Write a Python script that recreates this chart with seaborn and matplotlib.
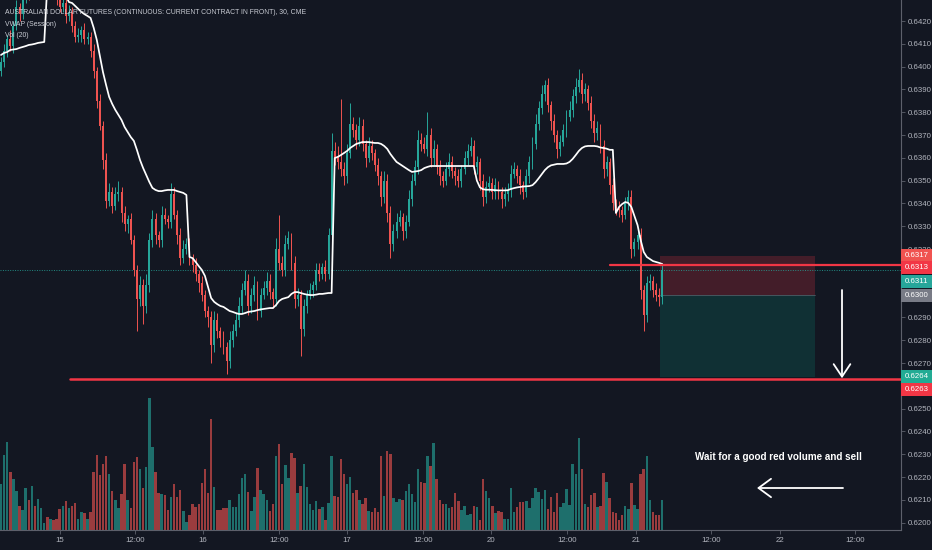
import matplotlib
matplotlib.use("Agg")
import matplotlib.pyplot as plt
import matplotlib.transforms as mtransforms
from matplotlib import font_manager
from matplotlib.patches import Rectangle
import numpy as np
import pandas as pd
import seaborn as sns

# ---------------- data (prices in 1/10000 units) ----------------
first_open = 6398
closes = [6402,6407,6412,6409,6418,6426,6423,6430,6435,6432,
          6436,6433,6435,6437,6438,6435,6436,6433,6430,6426,
          6428,6422,6424,6418,6413,6414,6416,6412,6413,6407,
          6398,6385,6374,6359,6341,6345,6339,6344,6345,6336,
          6331,6333,6324,6311,6298,6304,6295,6304,6324,6333,
          6326,6324,6335,6333,6332,6344,6335,6326,6316,6320,
          6322,6316,6313,6309,6305,6300,6293,6290,6278,6289,
          6284,6281,6277,6271,6280,6284,6289,6295,6302,6306,
          6295,6300,6304,6293,6300,6303,6306,6301,6298,6320,
          6314,6311,6322,6325,6314,6298,6300,6285,6295,6300,
          6302,6304,6311,6309,6312,6309,6326,6363,6360,6358,
          6355,6352,6362,6375,6372,6368,6374,6366,6360,6365,
          6362,6357,6352,6343,6350,6336,6322,6328,6332,6334,
          6328,6332,6342,6350,6356,6368,6366,6364,6370,6360,
          6364,6356,6352,6350,6355,6358,6354,6352,6350,6355,
          6360,6363,6365,6356,6358,6350,6343,6347,6349,6345,
          6348,6345,6342,6344,6346,6353,6355,6352,6348,6345,
          6352,6358,6366,6375,6382,6388,6392,6383,6376,6370,
          6364,6367,6372,6378,6381,6387,6391,6394,6388,6390,
          6384,6376,6371,6373,6365,6355,6358,6348,6340,6338,
          6337,6335,6340,6343,6320,6323,6326,6302,6291,6305,
          6306,6302,6300,6299,6311]

wick_up = [2,3,2,4,2,3,2,3,2,3, 2,3,2,2,3,2,2,3,2,3, 3,2,3,2,2,3,2,3,2,2,
           3,2,3,2,3,4,2,3,5,2, 3,2,3,2,2,4,3,5,3,4, 3,2,4,3,2,5,3,2,3,4,
           3,3,2,3,2,3,2,2,3,4, 3,2,3,2,4,3,3,4,3,5, 3,3,4,2,3,3,4,3,2,5,
           15,3,4,3,2,3,3,2,3,2, 3,2,3,3,2,3,3,8,4,5, 28,3,4,9,3,3,4,3,2,4,
           3,2,3,2,4,3,3,3,4,3, 2,3,4,3,3,4,3,3,10,3, 4,2,3,2,3,4,3,2,3,2,
           3,3,4,3,3,2,3,3,3,2, 3,2,2,3,3,4,3,2,3,2, 3,3,3,4,3,4,2,3,2,3,
           2,3,3,3,4,3,4,5,3,3, 2,3,3,3,2,3,3,2,3,2, 3,2,3,3,3,2,3,3,2,3,
           3,2,3,3,3]

wick_dn = [2,2,3,2,3,2,3,2,2,3, 2,2,3,2,2,3,2,2,3,2, 2,3,2,3,2,2,3,2,2,3,
           3,3,2,4,3,2,3,2,3,4, 3,4,2,3,14,3,8,3,3,3, 4,3,3,2,3,3,2,4,3,2,
           2,3,3,3,4,3,3,4,8,3, 3,4,3,6,3,3,2,3,3,2, 4,3,3,4,3,2,3,3,4,3,
           3,3,3,2,3,4,3,12,3,3, 2,3,2,3,2,3,2,2,3,3, 3,4,3,2,3,4,3,3,4,2,
           3,3,4,4,3,4,6,3,3,2, 4,3,2,3,2,3,3,2,3,4, 3,3,4,3,2,3,3,4,3,3,
           2,3,2,3,3,4,4,3,2,3, 3,3,4,3,3,3,2,3,4,3, 2,3,3,2,3,3,3,3,4,3,
           4,3,2,3,2,3,3,2,4,3, 3,3,4,3,3,4,3,4,3,3, 3,3,2,3,4,3,3,4,7,3,
           3,3,3,4,3]

volume = [138,225,265,173,152,117,73,60,125,90, 132,73,93,65,22,40,33,30,32,62,
          72,88,65,72,80,32,55,52,32,55, 173,227,165,200,222,167,117,90,67,108,
          198,90,67,205,220,183,126,190,397,250, 173,112,108,105,60,98,139,100,119,57,
          25,45,78,69,77,140,182,110,335,130, 60,60,66,67,90,68,70,107,157,168,
          113,57,100,185,120,108,90,58,78,223, 260,139,195,157,233,217,112,132,199,128,
          77,60,87,63,70,30,82,223,102,98, 215,167,138,160,110,119,90,78,95,58,
          55,67,55,223,102,239,230,97,85,92, 90,117,138,108,85,183,143,140,223,192,
          263,153,90,78,78,67,70,112,87,60, 73,45,48,72,68,30,153,118,95,72,
          52,57,55,33,33,125,55,70,83,85, 88,67,95,125,113,93,119,62,98,55,
          112,68,80,123,75,198,167,277,183,77, 70,105,110,68,72,170,143,95,55,50,
          30,45,73,62,142,75,63,167,182,222, 90,53,45,45,90]

vwap = [6405.1,6406,6406.4,6407.3,6407.5,6407.7,6408.2,6408.6,6409,6409.5,
        6409.7,6410,6410.4,6410.6,6410.8,6436,6436,6435,6434,6433,
        6432,6431,6428.3,6427.9,6426.6,6425.3,6424,6423,6422.2,6421.3,
        6417,6411.7,6404.6,6397.6,6392,6386.7,6383.6,6381,6378.8,6376.6,
        6373.5,6371.3,6369.1,6367.4,6363.4,6359,6355.5,6352.5,6349.4,6346.8,
        6345.9,6345.4,6345.4,6345.7,6345.9,6345.9,6345.9,6345.4,6345,6344.6,
        6343.7,6316.5,6316,6314.3,6312.5,6310.8,6308.2,6303.3,6298.5,6296.8,
        6295.8,6295,6294.6,6293.7,6292.8,6292.4,6291.9,6291.5,6291.5,6291.9,
        6292.4,6292.6,6292.8,6293.2,6293.5,6293.7,6293.9,6294.1,6294.1,6295.4,
        6297.2,6298.1,6298.5,6298.9,6300.3,6301.1,6301.1,6300.7,6300.3,6300,
        6299.8,6299.8,6300,6300.3,6300.3,6300.5,6300.7,6300.7,6359.9,6360.4,
        6361.2,6362.1,6363,6364.3,6365.2,6366.1,6366.5,6366.9,6366.9,6366.9,
        6366.7,6366.5,6366.5,6366.1,6365.2,6363.9,6361.7,6359.9,6358.2,6357.3,
        6356.4,6355.5,6354.6,6353.8,6354,6354.2,6354.6,6355.5,6356,6356.4,
        6356.4,6356.4,6356.4,6356.4,6356.4,6356.4,6356.4,6356.4,6356.4,6356.4,
        6356.4,6356.4,6356.4,6356.4,6350,6347,6346.2,6346,6346,6345.9,
        6345.8,6345.7,6345.7,6345.7,6345.8,6346.3,6346.7,6347,6347.2,6347.4,
        6347.5,6347.6,6348,6349.3,6351,6352.8,6354.6,6355.9,6356.7,6357,
        6357.3,6357.3,6357.3,6357.5,6358.2,6359.5,6361.2,6363,6364.3,6365,
        6365.2,6365.2,6365.2,6365,6364.5,6364.3,6364,6363.5,6363.5,6335.8,
        6338.4,6339.7,6340.6,6340.2,6338.4,6334.5,6330.5,6324,6318.7,6316.5,
        6315.6,6314.7,6314.3,6313.9,6313.4]

x_tick_labels = ["15", "12:00", "16", "12:00", "17", "12:00", "20", "12:00",
                 "21", "12:00", "22", "12:00"]
x_tick_bars = [19.1, 43.4, 65.4, 90.0, 112.0, 136.6, 158.6, 183.2, 205.5, 229.8, 252.1, 276.4]

price_ticks = [6200 + 10 * k for k in range(23)]
covered_ticks = [6260, 6300, 6310]   # hidden behind the price tags

last_price = 6311
stop_price = 6317
entry_price = 6300
target_price = 6264
line_upper = 6313
line_lower = 6263

header = "AUSTRALIAN DOLLAR FUTURES (CONTINUOUS: CURRENT CONTRACT IN FRONT), 30, CME"
sub1 = "VWAP (Session)"
sub2 = "Vol (20)"
note = "Wait for a good red volume and sell"

# ---------------- derived ----------------
SC = 10000.0
c = np.array(closes, float)
o = np.concatenate([[first_open], c[:-1]])
hi = np.maximum(o, c) + np.array(wick_up)
lo = np.minimum(o, c) - np.array(wick_dn)
n = len(c)
idx = np.arange(n)
df = pd.DataFrame({"bar": idx, "open": o / SC, "close": c / SC, "high": hi / SC,
                   "low": lo / SC, "vol": volume, "vwap": np.array(vwap) / SC})

BG = "#131722"
TEAL = "#26a69a"
RED = "#ef5350"
TXT = "#b2b5be"
HDR = "#c9ccd4"
AX = "#5d606b"

sns.set_theme(style="dark", rc={"axes.facecolor": BG, "figure.facecolor": BG,
                                "axes.edgecolor": AX, "axes.grid": False})
names = {f.name for f in font_manager.fontManager.ttflist}
NARROW = "Liberation Sans Narrow" if "Liberation Sans Narrow" in names else "Liberation Sans"
plt.rcParams["font.family"] = [NARROW, "DejaVu Sans"]

W, H = 932, 550
fig = plt.figure(figsize=(W / 100, H / 100), dpi=100)
rect = [0, 20 / H, 901 / W, 530 / H]
ax = fig.add_axes(rect)
ax_vol = ax.twinx()
ax_vol.set_zorder(1)
ax.set_zorder(2)
ax.patch.set_visible(False)
ax_vol.patch.set_facecolor(BG)

renderer = fig.canvas.get_renderer()


def fit_size(text, target_px, weight="normal", family=None):
    t = fig.text(0, 0, text, fontsize=10, weight=weight,
                 family=family or [NARROW, "DejaVu Sans"])
    w = t.get_window_extent(renderer).width
    t.remove()
    return 10.0 * target_px / w


# px -> bar index mapping: bar i sits at x = 1 + 3.09 i
def bx(px):
    return (px - 1) / 3.09


x_lo, x_hi = bx(0), bx(901)
y_lo = (6420 - (530 - 21) / 2.28) / SC
y_hi = (6420 + 21 / 2.28) / SC

# volume
vcol = np.where(df["close"] >= df["open"], TEAL, RED)
ax_vol.bar(df["bar"], df["vol"], width=0.8, color=vcol, alpha=0.62, linewidth=0)
ax_vol.set_ylim(0, max(volume) * 530 / 132)
ax_vol.set_yticks([])
for s in ax_vol.spines.values():
    s.set_visible(False)

# candles
ccol = np.where(df["close"] >= df["open"], TEAL, RED)
ax.vlines(df["bar"], df["low"], df["high"], colors=ccol, lw=0.7, zorder=3)
body = np.maximum((df["close"] - df["open"]).abs(), 0.4 / SC)
ax.bar(df["bar"], body, bottom=np.minimum(df["open"], df["close"]), width=0.62,
       color=ccol, linewidth=0, zorder=4)

# VWAP
sns.lineplot(data=df, x="bar", y="vwap", ax=ax, color="white", lw=1.25,
             sort=False, estimator=None, zorder=5)

# current price dotted line
ax.axhline(last_price / SC, color=TEAL, lw=0.7, ls=(0, (1, 1.5)), alpha=0.8, zorder=2)

# position box
bx0, bx1 = bx(660), bx(815)
ax.fill_between([bx0, bx1], entry_price / SC, stop_price / SC, color="#f23645",
                alpha=0.22, linewidth=0, zorder=1)
ax.fill_between([bx0, bx1], target_price / SC, entry_price / SC, color="#089981",
                alpha=0.2, linewidth=0, zorder=1)
ax.plot([bx0, bx1], [entry_price / SC] * 2, color="#787b86", lw=0.6, alpha=0.6, zorder=1)

# horizontal red lines
ax.plot([bx(610), x_hi], [line_upper / SC] * 2, color="#f23645", lw=1.6, zorder=6)
ax.plot([bx(70), x_hi], [line_lower / SC] * 2, color="#f23645", lw=1.8, zorder=6)

# arrows
ax.annotate("", xy=(bx(842), (line_lower + 0.3) / SC), xytext=(bx(842), 6302 / SC),
            arrowprops=dict(arrowstyle="->,head_length=0.75,head_width=0.5",
                            color="white", lw=1.3, shrinkA=0, shrinkB=0), zorder=7)
y_arrow = (6420 - (488 - 21) / 2.28) / SC
ax.annotate("", xy=(bx(757), y_arrow), xytext=(bx(843), y_arrow),
            arrowprops=dict(arrowstyle="->,head_length=0.75,head_width=0.55",
                            color="white", lw=1.3, shrinkA=0, shrinkB=0), zorder=7)

# note
y_note = (6420 - (457 - 21) / 2.28) / SC
fs_note = fit_size(note, 166, weight="bold", family=["Liberation Sans", "DejaVu Sans"])
ax.text(bx(778), y_note, note, color="white", fontsize=fs_note, weight="bold",
        family=["Liberation Sans", "DejaVu Sans"], ha="center", va="center", zorder=7)

# axes styling
ax.set_xlim(x_lo, x_hi)
ax.set_ylim(y_lo, y_hi)
ax_vol.set_xlim(x_lo, x_hi)
fs_tick = fit_size("0.6420", 23) * 1.05
ax.yaxis.tick_right()
ax.set_yticks([p / SC for p in price_ticks])
ax.set_yticklabels(["" if p in covered_ticks else f"{p / SC:.4f}" for p in price_ticks])
ax.set_xticks(x_tick_bars)
ax.set_xticklabels(x_tick_labels)
ax.tick_params(axis="y", which="both", right=True, left=False, length=3, width=0.6,
               color=AX, labelcolor=TXT, labelsize=fs_tick, pad=1.5)
ax.tick_params(axis="x", bottom=True, length=3, width=0.6, color=AX,
               labelcolor=TXT, labelsize=fs_tick, pad=2)
ax.set_xlabel("")
ax.set_ylabel("")
for k in ["top", "left"]:
    ax.spines[k].set_visible(False)
ax.spines["right"].set_color(AX)
ax.spines["bottom"].set_color(AX)
ax.spines["right"].set_linewidth(0.8)
ax.spines["bottom"].set_linewidth(0.8)

# price tags on the right axis
trans = mtransforms.blended_transform_factory(ax.transAxes, ax.transData)
tag_w = 31 / 901
tag_h = 13 / 2.28 / SC
tags = [(stop_price, 6317.0, "#f05350"), (line_upper, 6311.7, "#f23645"),
        (last_price, 6305.6, TEAL), (entry_price, 6299.4, "#787b86"),
        (target_price, 6264.0, "#22ab94"), (line_lower, 6258.3, "#f23645")]
for val, ypos, col in tags:
    yc = ypos / SC
    ax.add_patch(Rectangle((1.0, yc - tag_h / 2), tag_w, tag_h, transform=trans,
                           facecolor=col, edgecolor="none", clip_on=False, zorder=20))
    ax.text(1.0 + 4 / 901, yc, f"{val / SC:.4f}", transform=trans, color="white",
            fontsize=fs_tick, va="center", ha="left", clip_on=False, zorder=21)

# header texts
fs_h = fit_size(header, 300)
fig.text(5 / W, 1 - 12 / H, header, color=HDR, fontsize=fs_h, va="center", ha="left")
fig.text(5 / W, 1 - 24 / H, sub1, color=HDR, fontsize=fs_h, va="center", ha="left")
fig.text(5 / W, 1 - 35.5 / H, sub2, color=HDR, fontsize=fs_h, va="center", ha="left")

fig.savefig("out.png", dpi=100, facecolor=BG)
